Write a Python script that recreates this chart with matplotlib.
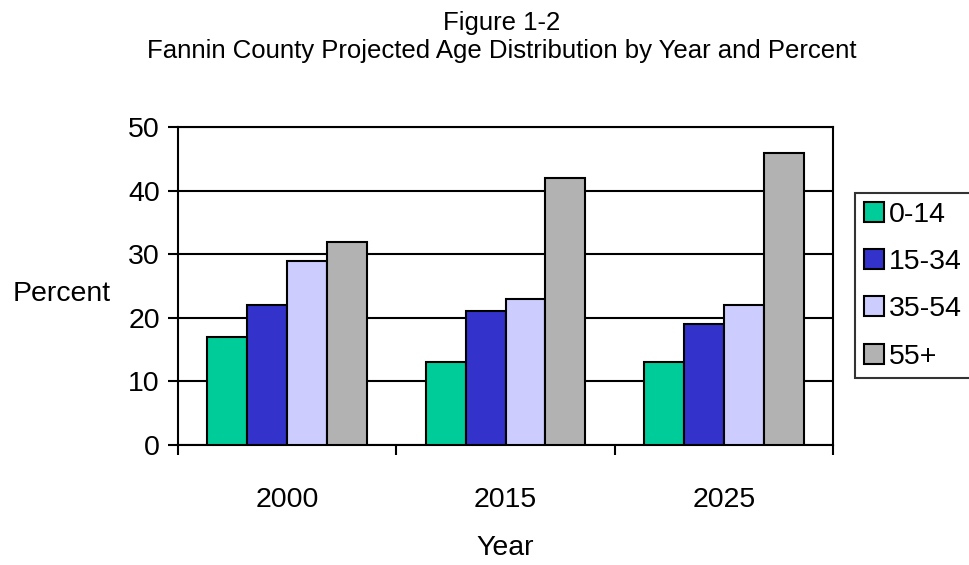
import numpy as np
from matplotlib import pyplot as plt

plt.rcParams['font.family'] = ['Liberation Sans', 'DejaVu Sans']

# Age-group shares by projection year
years = ['2000', '2015', '2025']
groups = ['0-14', '15-34', '35-54', '55+']
age_0_14 = [17, 13, 13]
age_15_34 = [22, 21, 19]
age_35_54 = [29, 23, 22]
age_55_up = [32, 42, 46]
series = [age_0_14, age_15_34, age_35_54, age_55_up]
colors = ['#00cc99', '#3333cc', '#ccccff', '#b2b2b2']

fs = 20.5

fig = plt.figure(figsize=(9.69, 5.65), dpi=100)
ax = fig.add_axes([0.1837, 0.2124, 0.676, 0.5626])

x = np.arange(len(years))
w = 0.183
for i, (vals, c) in enumerate(zip(series, colors)):
    ax.bar(x + (i - 1.5) * w, vals, w, color=c, edgecolor='black',
           linewidth=1.5, label=groups[i], zorder=3)

ax.set_xlim(-0.5, 2.5)
ax.set_ylim(0, 50)
ax.set_yticks(range(0, 51, 10))
ax.yaxis.grid(True, color='black', linewidth=1.5, zorder=0)
ax.set_xticks([-0.5, 0.5, 1.5, 2.5])
ax.set_xticklabels([])
ax.set_xticks(x, minor=True)
ax.set_xticklabels(years, minor=True)
ax.tick_params(axis='x', which='minor', length=0, pad=30, labelsize=fs)
ax.tick_params(axis='x', which='major', length=7, width=1.5, direction='out')
ax.tick_params(axis='y', length=7, width=1.5, direction='out', labelsize=fs, pad=6)
for s in ax.spines.values():
    s.set_linewidth(1.5)

ax.set_xlabel('Year', fontsize=fs, va='center')
ax.xaxis.set_label_coords(0.5, -0.325)
ax.set_ylabel('Percent', fontsize=fs, rotation=0, va='center', ha='center')
ax.yaxis.set_label_coords(-0.178, 0.475)

fig.text(0.518, 0.96, 'Figure 1-2', ha='center', va='center', fontsize=18.5)
fig.text(0.518, 0.91, 'Fannin County Projected Age Distribution by Year and Percent',
         ha='center', va='center', fontsize=18.5)

leg = ax.legend(loc='upper left', bbox_to_anchor=(0.8824, 0.6584),
                bbox_transform=fig.transFigure, fontsize=fs, frameon=True,
                fancybox=False, edgecolor='black', handlelength=0.7,
                handleheight=0.7, handletextpad=0.2, borderpad=0.3,
                labelspacing=0.75, borderaxespad=0)
leg.get_frame().set_linewidth(1.5)

fig.savefig('out.png', dpi=100)
